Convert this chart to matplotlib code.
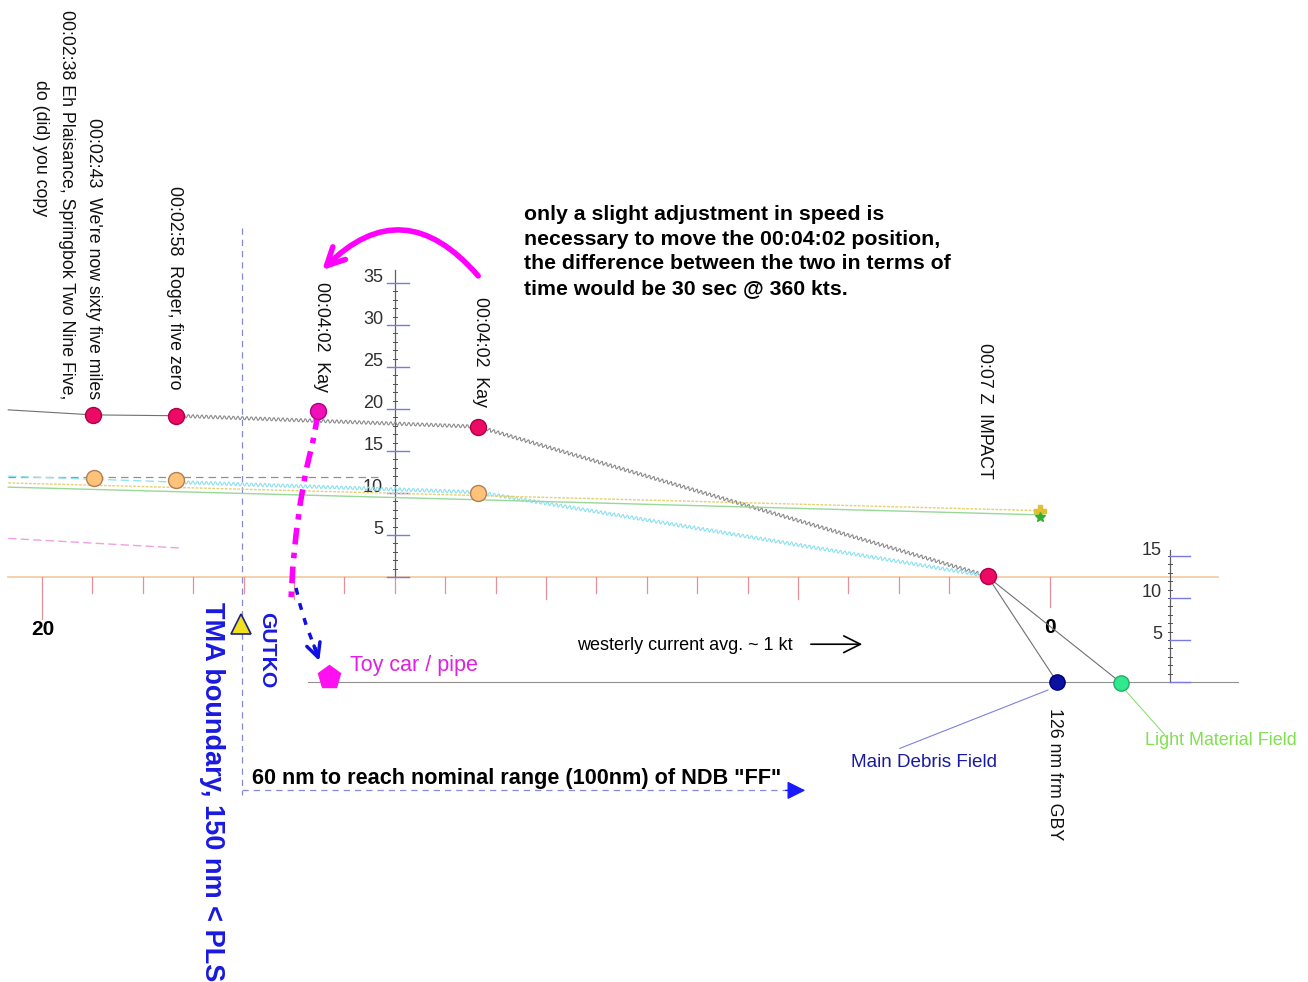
import numpy as np
import matplotlib
matplotlib.use("Agg")
import matplotlib.pyplot as plt

plt.rcParams['font.family'] = ['Liberation Sans', 'DejaVu Sans']

# -----------------------------
# Data: x = distance in nm (0 = reference, grows to the left), y = altitude / depth units
# -----------------------------
upper_nm = [20.67, 18.99, 17.34, 11.35, 1.23]
upper_alt = [19.9, 19.3, 19.2, 17.9, 0.1]
upper_marks_nm = [18.99, 17.34, 11.35, 1.23]
upper_marks_alt = [19.3, 19.2, 17.9, 0.1]

kay_adj_nm = [14.52]
kay_adj_alt = [19.8]

lower_marks_nm = [18.97, 17.34, 11.35]
lower_marks_alt = [11.8, 11.55, 10.0]

cyan_nm = [20.67, 17.34, 11.35, 1.23]
cyan_alt = [12.0, 11.3, 10.1, 0.1]
gray_dash_nm = [20.67, 13.29]
gray_dash_alt = [11.9, 11.9]
yellow_nm = [20.67, 0.2]
yellow_alt = [11.2, 7.9]
green_nm = [20.67, 0.2]
green_alt = [10.7, 7.4]
pink_nm = [20.67, 17.26]
pink_alt = [4.6, 3.45]

# drift of the 00:04:02 point
drift_nm = [14.52, 14.62, 14.76, 14.88, 14.96, 15.02, 15.06]
drift_alt = [19.5, 16.3, 12.7, 8.6, 5.0, 1.4, -2.7]
sink_nm = [14.96, 14.88, 14.76, 14.62, 14.48]
sink_alt = [-1.3, -3.3, -5.7, -7.9, -9.9]

impact = (1.23, 0.0)
main_debris = (-0.14, -12.5)
light_field = (-1.41, -12.6)
toy_car = (14.3, -11.9)
gutko = (16.05, -5.6)
seabed_alt = -12.5

tma_nm = 16.03
range_end_nm = 4.8
range_alt = -25.4

alt_ticks = [5, 10, 15, 20, 25, 30, 35]
depth_ticks = [5, 10, 15]
dist_ticks = [0] + list(range(2, 21))

# -----------------------------
# Figure
# -----------------------------
fig = plt.figure(figsize=(13.08, 9.82), dpi=100)
ax = fig.add_axes([0, 0, 1, 1])
ax.set_xlim(20.833, -5.119)
ax.set_ylim(-48.21, 68.69)
ax.axis('off')

zig = dict(scale=1.8, length=4.5, randomness=1)

# surface line with distance ticks
ax.plot([20.67, -3.33], [0, 0], color='#f5c8a0', lw=1.2, zorder=1)
for t in dist_ticks:
    if t in (0, 20):
        ln = 5.0 if t == 20 else 3.6
    elif t % 5 == 0:
        ln = 2.6
    else:
        ln = 1.9
    ax.plot([t, t], [0, -ln], color='#e89098', lw=0.9, zorder=1)
ax.text(19.98, -6.3, '20', fontsize=15, fontweight='bold', ha='center', va='center')
ax.text(0.0, -5.95, '0', fontsize=15, fontweight='bold', ha='center', va='center')

# altitude axis
ax.plot([13.0, 13.0], [0, 36.5], color='#606060', lw=0.9, zorder=2)
for a in range(1, 36):
    ax.plot([13.04, 12.96], [a, a], color='#505050', lw=0.7, zorder=2)
for a in alt_ticks + [0]:
    ax.plot([13.15, 12.72], [a, a], color='#7a7ae0', lw=1.0, zorder=2)
for a in alt_ticks:
    ax.text(13.23, a + 0.7, str(a), fontsize=13, ha='right', va='center', color='#303030')

# depth axis on the right
ax.plot([-2.38, -2.38], [seabed_alt, 3.2], color='#606060', lw=0.9, zorder=2)
for a in range(1, 16):
    ax.plot([-2.34, -2.42], [seabed_alt + a, seabed_alt + a], color='#505050', lw=0.7)
for a in depth_ticks + [0]:
    ax.plot([-2.38, -2.78], [seabed_alt + a, seabed_alt + a], color='#7a7ae0', lw=1.0)
for a in depth_ticks:
    ax.text(-2.22, seabed_alt + a + 0.6, str(a), fontsize=13, ha='right', va='center', color='#303030')

# seabed
ax.plot([14.72, -3.73], [seabed_alt, seabed_alt], color='#909090', lw=0.8, zorder=1)

# tracks
ax.plot(upper_nm[:3], upper_alt[:3], color='#707070', lw=0.8, zorder=3)
l, = ax.plot(upper_nm[2:], upper_alt[2:], color='#8a8a8a', lw=0.8, zorder=3)
l.set_sketch_params(**zig)
ax.plot(gray_dash_nm, gray_dash_alt, color='#909090', lw=0.9, ls=(0, (6, 4)), zorder=3)
ax.plot(cyan_nm[:2], cyan_alt[:2], color='#90e4f4', lw=1.0, ls=(0, (6, 3)), zorder=3)
l, = ax.plot(cyan_nm[1:], cyan_alt[1:], color='#8ae0f2', lw=0.8, zorder=3)
l.set_sketch_params(**zig)
ax.plot(yellow_nm, yellow_alt, color='#e6d070', lw=1.0, ls=(0, (2, 1)), zorder=3)
ax.plot(green_nm, green_alt, color='#98d898', lw=1.0, zorder=3)
ax.plot(pink_nm, pink_alt, color='#f0a0e0', lw=1.0, ls=(0, (6, 3)), zorder=3)
ax.plot([yellow_nm[-1]], [yellow_alt[-1]], marker='P', ms=8, color='#e0c030', zorder=4)
ax.plot([green_nm[-1]], [green_alt[-1] - 0.3], marker='*', ms=7, color='#30b030', zorder=4)

# impact to debris
for p in (main_debris, light_field):
    ax.plot([impact[0], p[0]], [impact[1], p[1]], color='#707070', lw=0.8, zorder=3)

# markers
ax.plot(upper_marks_nm, upper_marks_alt, 'o', ms=11.5, mfc='#ec0a64', mec='#b00045', zorder=5)
ax.plot(kay_adj_nm, kay_adj_alt, 'o', ms=11.5, mfc='#f010b8', mec='#b00080', zorder=5)
ax.plot(lower_marks_nm, lower_marks_alt, 'o', ms=11.5, mfc='#ffc27a', mec='#b08050', zorder=5)
ax.plot([main_debris[0]], [main_debris[1]], 'o', ms=11, mfc='#0a10a0', mec='#000070', zorder=5)
ax.plot([light_field[0]], [light_field[1]], 'o', ms=11, mfc='#30e890', mec='#20b060', zorder=5)
ax.plot([toy_car[0]], [toy_car[1]], 'p', ms=17, color='#ff10f0', zorder=5)
ax.plot([gutko[0]], [gutko[1]], '^', ms=14, mfc='#f0e020', mec='#202080', mew=1.2, zorder=5)

# drift path of the 00:04:02 point
ax.plot(drift_nm, drift_alt, color='#ff00ff', lw=4, ls=(0, (3, 1.5, 1, 1.5)), zorder=4)
ax.plot(sink_nm, sink_alt, color='#1010e0', lw=2.5, ls=(0, (2, 2.5)), zorder=4)
ax.annotate('', xy=(sink_nm[-1], sink_alt[-1] - 0.4), xytext=(sink_nm[-2], sink_alt[-2]),
            arrowprops=dict(arrowstyle='->', color='#1010e0', lw=2.5, mutation_scale=25))

# curved arrow at top
ax.annotate('', xy=(14.48, 36.3), xytext=(11.31, 35.6),
            arrowprops=dict(arrowstyle='->', color='#ff00ff', lw=4, mutation_scale=32,
                            connectionstyle='arc3,rad=0.55'))

# TMA boundary and range arrow
ax.plot([tma_nm, tma_nm], [41.5, -26.0], color='#8888d8', lw=0.9, ls=(0, (5, 4)), zorder=2)
ax.plot([tma_nm, range_end_nm + 0.1], [range_alt, range_alt], color='#8888e0', lw=0.9,
        ls=(0, (5, 4)), zorder=2)
ax.annotate('', xy=(range_end_nm, range_alt), xytext=(range_end_nm + 0.5, range_alt),
            arrowprops=dict(arrowstyle='-|>', color='#1a1aff', lw=1, mutation_scale=28))

# current arrow
ax.annotate('', xy=(3.67, -8.0), xytext=(4.8, -8.0),
            arrowprops=dict(arrowstyle='->', color='black', lw=1.2, mutation_scale=30))

# leader lines
ax.plot([2.98, 0.04], [-20.4, -13.45], color='#8080e0', lw=0.8)
ax.plot([-1.49, -2.28], [-13.45, -18.8], color='#90e070', lw=0.8)

# -----------------------------
# Texts
# -----------------------------
rot = dict(rotation=270, ha='center', va='top', fontsize=12.8, color='#101010')
ax.text(19.52, 67.5, '00:02:38 Eh Plaisance, Springbok Two Nine Five,', **rot)
ax.text(20.02, 59.2, 'do (did) you copy', **rot)
ax.text(18.97, 54.6, "00:02:43  We're now sixty five miles", **rot)
ax.text(17.38, 46.5, '00:02:58  Roger, five zero', **rot)
ax.text(14.46, 35.1, '00:04:02  Kay', **rot)
ax.text(11.29, 33.3, '00:04:02  Kay', **rot)
ax.text(1.29, 27.9, '00:07 Z  IMPACT', **rot)
ax.text(-0.08, -15.6, '126 nm frm GBY', **rot)

ax.text(15.54, -4.17, 'GUTKO', rotation=270, ha='center', va='top', fontsize=15.2,
        fontweight='bold', color='#1a1ae0')
ax.text(16.63, -2.98, 'TMA boundary, 150 nm < PLS', rotation=270, ha='center', va='top',
        fontsize=19.5, fontweight='bold', color='#1a1ae0')

ax.text(10.44, 44.3, 'only a slight adjustment in speed is\n'
        'necessary to move the 00:04:02 position,\n'
        'the difference between the two in terms of\n'
        'time would be 30 sec @ 360 kts.',
        fontsize=15.3, fontweight='bold', ha='left', va='top', linespacing=1.38)

ax.text(9.38, -8.1, 'westerly current avg. ~ 1 kt', fontsize=13, ha='left', va='center')
ax.text(15.83, -24.0, '60 nm to reach nominal range (100nm) of NDB "FF"', fontsize=15.6,
        fontweight='bold', ha='left', va='center')
ax.text(13.89, -10.5, 'Toy car / pipe', fontsize=15.5, color='#e020e0', ha='left', va='center')
ax.text(3.95, -22.1, 'Main Debris Field', fontsize=13.6, color='#1a1aa0', ha='left', va='center')
ax.text(-1.88, -19.5, 'Light Material Field', fontsize=12.9, color='#80e050', ha='left', va='center')

fig.savefig('out.png', dpi=100)
